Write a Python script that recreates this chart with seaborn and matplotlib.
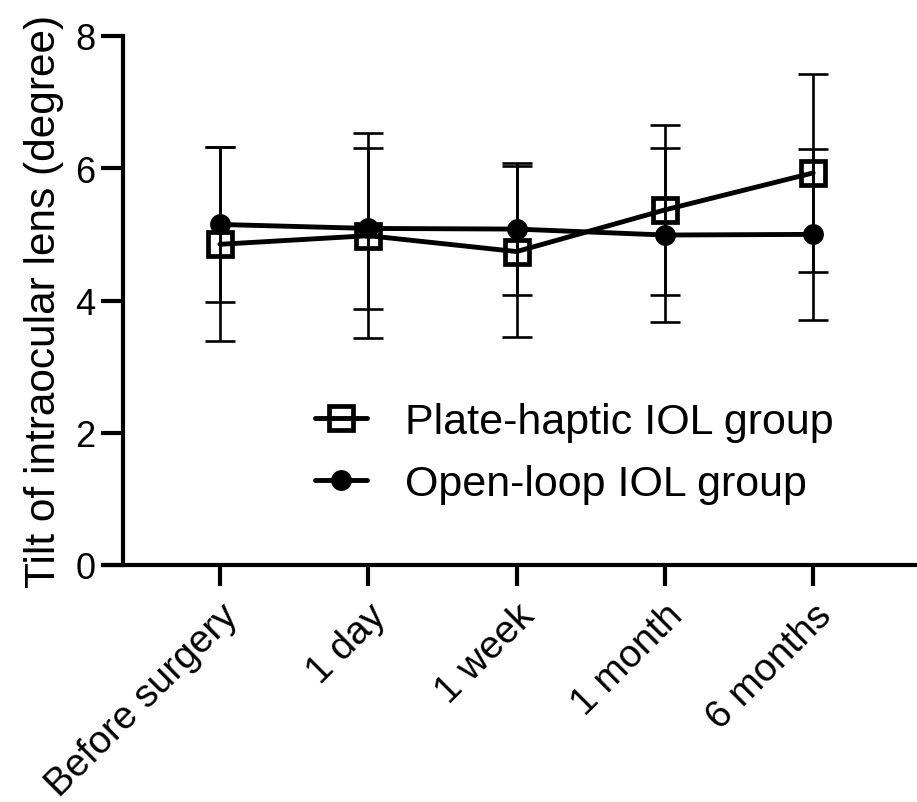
import matplotlib
matplotlib.use("Agg")
import matplotlib.pyplot as plt
import seaborn as sns
import pandas as pd
import numpy as np

categories = ["Before surgery", "1 day", "1 week", "1 month", "6 months"]
plate_mean = [4.85, 4.98, 4.74, 5.37, 5.93]
plate_sd = [1.47, 1.55, 1.29, 1.28, 1.50]
open_mean = [5.15, 5.09, 5.08, 4.99, 5.00]
open_sd = [1.17, 1.22, 1.00, 1.31, 1.29]
series_names = ["Plate-haptic IOL group", "Open-loop IOL group"]
y_ticks = [0, 2, 4, 6, 8]
y_label = "Tilt of intraocular lens (degree)"

sns.set_theme(style="ticks")
plt.rcParams['font.family'] = ['Liberation Sans', 'DejaVu Sans']
plt.rcParams['text.color'] = 'black'
plt.rcParams['axes.labelcolor'] = 'black'

fig = plt.figure(figsize=(9.17, 8.03), dpi=100)
W, H = 917, 803
ax = fig.add_axes([103 / W, (H - 566) / H, (W - 103) / W, (566 - 37) / H])

pos = np.arange(len(categories))
df = pd.DataFrame({
    "x": np.concatenate([pos, pos]),
    "y": plate_mean + open_mean,
    "group": [series_names[0]] * len(pos) + [series_names[1]] * len(pos),
})

lw = 3.5
ax.errorbar(pos, plate_mean, yerr=plate_sd, fmt='none', ecolor='black',
            elinewidth=1.9, capsize=10.5, capthick=1.9, zorder=3)
ax.errorbar(pos, open_mean, yerr=open_sd, fmt='none', ecolor='black',
            elinewidth=1.9, capsize=10.5, capthick=1.9, zorder=3)

sns.lineplot(data=df[df.group == series_names[0]], x="x", y="y", ax=ax,
             color='black', lw=lw, marker='s', markersize=17,
             markerfacecolor='none', markeredgecolor='black', markeredgewidth=3.4,
             label=series_names[0], zorder=4)
sns.lineplot(data=df[df.group == series_names[1]], x="x", y="y", ax=ax,
             color='black', lw=lw, marker='o', markersize=15,
             markerfacecolor='black', markeredgecolor='black', markeredgewidth=0,
             label=series_names[1], zorder=4)

ax.spines['left'].set_position(('data', -0.654))
ax.set_xlim(-0.789, 4.70)
ax.set_ylim(0, 8)
ax.set_yticks(y_ticks)
ax.set_yticklabels([str(t) for t in y_ticks])
ax.set_xticks(pos)
ax.set_xticklabels(categories, rotation=45, ha='right', rotation_mode='anchor')
ax.set_xlabel("")
ax.set_ylabel(y_label, fontsize=30.5, labelpad=8, color='black')

for s in ['top', 'right']:
    ax.spines[s].set_visible(False)
for s in ['left', 'bottom']:
    ax.spines[s].set_linewidth(3)
    ax.spines[s].set_color('black')
ax.tick_params(axis='both', width=3, color='black', labelcolor='black')
ax.tick_params(axis='x', pad=8, length=15, labelsize=28)
ax.tick_params(axis='y', pad=4, length=16, labelsize=26)

leg = ax.legend(loc='center left', bbox_to_anchor=(315 / W, 1 - 454 / H),
                bbox_transform=fig.transFigure, frameon=False, fontsize=31,
                handlelength=1.2, handletextpad=0.9, labelspacing=0.5,
                borderpad=0, borderaxespad=0)
for t in leg.get_texts():
    t.set_color('black')

fig.savefig("out.png", dpi=100)
